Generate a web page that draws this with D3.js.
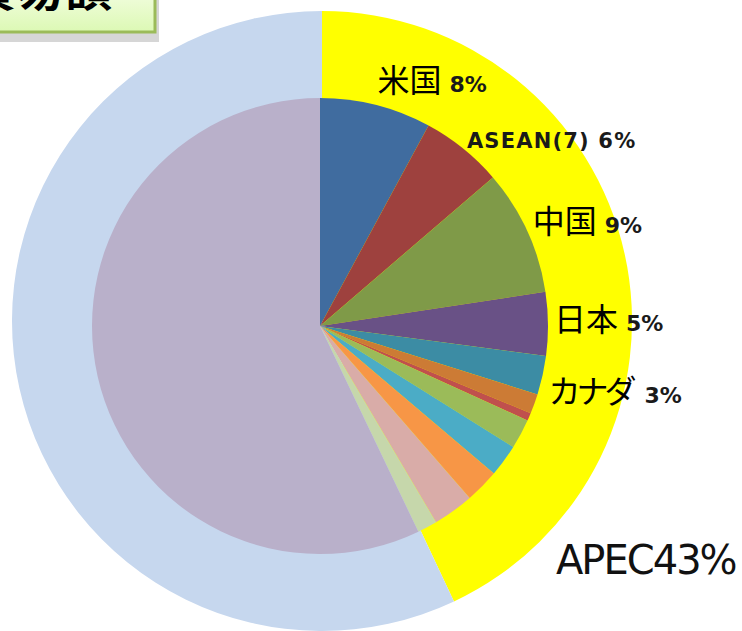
<!DOCTYPE html>
<html>
<head>
<meta charset="utf-8">
<script src="https://cdn.jsdelivr.net/npm/d3@7.9.0/dist/d3.min.js"></script>
<style>
  html, body { margin: 0; padding: 0; background: #fff; }
  svg { display: block; }
</style>
</head>
<body>
<svg id="chart" width="742" height="631"></svg>
<script>
// outer ring: APEC share of world trade
const ringNames = ['APEC', 'その他'];
const ringValues = [43, 57];
const ringColors = ['#ffff00', '#c6d7ee'];

// inner pie: breakdown (percent of world total)
const sliceNames = ['米国', 'ASEAN(7)', '中国', '日本', 'カナダ', 'メキシコ', 'チリ', '豪州', '韓国', '香港', '台湾', 'ロシア', 'APEC以外'];
const sliceValues = [7.9, 5.8, 8.9, 4.5, 2.75, 1.4, 0.55, 2.1, 2.3, 2.4, 2.9, 1.4, 57.1];
const sliceColors = ['#406c9f', '#9e413e', '#7f9a48', '#695186', '#3c8ca4', '#cc7b35', '#c0504d',
                     '#9bbb59', '#4bacc6', '#f79646', '#d9aca8', '#c6d7ab', '#b9b0ca'];

// which slices carry a label
const labelled = ['米国', 'ASEAN(7)', '中国', '日本', 'カナダ'];

const svg = d3.select('#chart');

// title box (mostly above the visible area)
const grad = svg.append('defs').append('linearGradient')
  .attr('id', 'titleFill').attr('x1', 0).attr('y1', 0).attr('x2', 0).attr('y2', 1);
grad.append('stop').attr('offset', '0%').attr('stop-color', '#f2fde0');
grad.append('stop').attr('offset', '100%').attr('stop-color', '#dcf9b4');

svg.append('rect')
  .attr('x', -4).attr('y', -10).attr('width', 163).attr('height', 52)
  .attr('fill', '#d6d6d6');
svg.append('rect')
  .attr('x', -4).attr('y', -10).attr('width', 159).attr('height', 42)
  .attr('fill', 'url(#titleFill)')
  .attr('stroke', '#9bbb59').attr('stroke-width', 3);
svg.append('text')
  .attr('x', 112).attr('y', 6)
  .attr('text-anchor', 'end')
  .attr('font-family', 'Noto Sans CJK JP')
  .attr('font-weight', 'bold')
  .attr('font-size', 48)
  .attr('fill', '#000')
  .text('世界の貿易額');

// outer ring
const ring = svg.append('g').attr('transform', 'translate(322,321)');
const ringPie = d3.pie().sort(null).value(d => d);
const ringArc = d3.arc().innerRadius(0).outerRadius(310);
ring.selectAll('path')
  .data(ringPie(ringValues))
  .join('path')
  .attr('d', ringArc)
  .attr('fill', (_, i) => ringColors[i]);

// inner pie
const cx = 320, cy = 326, r = 228;
const pie = svg.append('g').attr('transform', `translate(${cx},${cy})`);
const slicePie = d3.pie().sort(null).value(d => d);
const sliceArc = d3.arc().innerRadius(0).outerRadius(r);
const arcs = slicePie(sliceValues);
pie.selectAll('path')
  .data(arcs)
  .join('path')
  .attr('d', sliceArc)
  .attr('fill', (_, i) => sliceColors[i]);

// labels just outside the pie at each slice's mid angle
const labelR = 234;
const labelNudge = [-7, 4, 5, 7, 26];
const labels = svg.append('g').attr('transform', `translate(${cx},${cy})`);
arcs.forEach((a, i) => {
  const name = sliceNames[i];
  const k = labelled.indexOf(name);
  if (k < 0) return;
  const mid = (a.startAngle + a.endAngle) / 2;
  const x = Math.sin(mid) * labelR;
  const y = -Math.cos(mid) * labelR + labelNudge[k];
  const pct = Math.round(sliceValues[i]) + '%';
  const t = labels.append('text').attr('x', x).attr('y', y).attr('fill', '#000');
  if (name === 'ASEAN(7)') {
    t.attr('font-family', 'DejaVu Sans').attr('font-size', 21)
      .attr('font-weight', 'bold')
      .attr('letter-spacing', 1.2).attr('fill', '#1a1a1a')
      .text(name + ' ' + pct);
  } else {
    const kana = /[\u30a0-\u30ff]/.test(name);
    t.append('tspan')
      .attr('font-family', 'Noto Sans CJK JP').attr('font-size', 32)
      .attr('letter-spacing', kana ? -4 : 0)
      .text(name);
    t.append('tspan')
      .attr('dx', kana ? 12 : 8)
      .attr('font-family', 'DejaVu Sans').attr('font-size', 22)
      .attr('font-weight', 'bold')
      .attr('fill', '#1a1a1a')
      .text(pct);
  }
});

// ring label
svg.append('text')
  .attr('x', 556).attr('y', 574)
  .attr('font-family', 'DejaVu Sans')
  .attr('font-size', 40)
  .attr('letter-spacing', -2)
  .attr('fill', '#111')
  .text(ringNames[0] + ringValues[0] + '%');
</script>
</body>
</html>
